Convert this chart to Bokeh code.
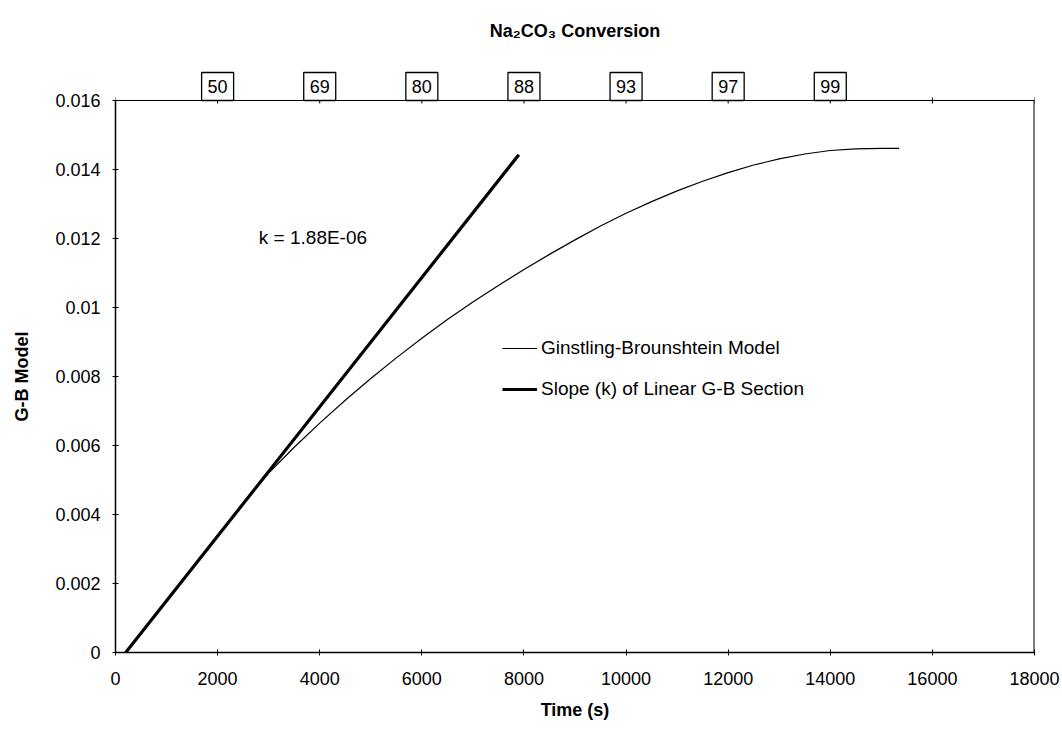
from bokeh.plotting import figure
from bokeh.models import Legend, LegendItem, FixedTicker, CustomJSTickFormatter, Range1d, Label
from bokeh.core.properties import value
from bokeh.embed import file_html
from bokeh.resources import INLINE

# ---- data ----
gb_time = [200, 1000, 2000, 2500, 3000, 3500, 4000, 4500, 5000, 5500, 6000, 6500,
           7000, 7500, 8000, 8500, 9000, 9500, 10000, 10500, 11000, 11500, 12000,
           12500, 13000, 13500, 14000, 14500, 15000, 15350]
gb_model = [0.0, 0.0015, 0.0034, 0.0043, 0.0052, 0.00595, 0.00665, 0.00731, 0.00794,
            0.00854, 0.00911, 0.00965, 0.01016, 0.01064, 0.0111, 0.01154, 0.01196,
            0.01236, 0.01273, 0.01307, 0.01338, 0.01366, 0.01391, 0.01413, 0.01431,
            0.01445, 0.01455, 0.0146, 0.01461, 0.01461]
slope_time = [200, 7900]
slope_value = [0.0, 0.01443]
conv_time = [2000, 4000, 6000, 8000, 10000, 12000, 14000]
conv_labels = ["50", "69", "80", "88", "93", "97", "99"]
x_ticks = [0, 2000, 4000, 6000, 8000, 10000, 12000, 14000, 16000, 18000]
y_ticks = [0, 0.002, 0.004, 0.006, 0.008, 0.01, 0.012, 0.014, 0.016]

FONT = "Liberation Sans"
W, H = 1062, 729
LEFT, RIGHT, BOTTOM = 115, 28, 77
Y_TOP = 0.016
PLOT_PX = 552                      # pixel height of the 0..0.016 area
FRAME_PX = H - BOTTOM              # frame extends to the top of the canvas
U = Y_TOP / PLOT_PX                # data units per pixel (vertical)

p = figure(width=W, height=H, output_backend="svg", toolbar_location=None,
           x_range=Range1d(0, 18000), y_range=Range1d(0, U * FRAME_PX))
p.min_border_left = LEFT
p.min_border_right = RIGHT
p.min_border_top = 0
p.min_border_bottom = BOTTOM
p.outline_line_color = None
p.xgrid.visible = False
p.ygrid.visible = False

for ax in (p.xaxis[0], p.yaxis[0]):
    ax.axis_line_color = "black"
    ax.axis_line_width = 1.5
    ax.major_tick_in = 3
    ax.major_tick_out = 3
    ax.minor_tick_line_color = None
    ax.major_label_text_font = FONT
    ax.major_label_text_font_size = "18px"
    ax.major_label_text_color = "black"
    ax.axis_label_text_font = FONT
    ax.axis_label_text_font_size = "18px"
    ax.axis_label_text_font_style = "bold"
    ax.axis_label_text_color = "black"

p.yaxis.bounds = (0, Y_TOP)
p.xaxis.ticker = FixedTicker(ticks=x_ticks)
p.yaxis.ticker = FixedTicker(ticks=y_ticks)
p.yaxis.formatter = CustomJSTickFormatter(code="return tick.toFixed(3).replace(/\\.?0+$/, '');")
p.xaxis.axis_label = "Time (s)"
# trailing no-break spaces re-centre the label on the 0..0.016 part of the axis
p.yaxis.axis_label = "G-B Model" + "\u00a0" * 20
p.xaxis.major_label_standoff = 16
p.yaxis.major_label_standoff = 12
p.xaxis.axis_label_standoff = 12
p.yaxis.axis_label_standoff = 20

# plot-area border (top and right)
p.line([0, 18000], [Y_TOP, Y_TOP], line_color="black", line_width=1.2)
p.line([18000, 18000], [0, Y_TOP], line_color="black", line_width=2)
# small tick marks on the top border
p.segment(x0=x_ticks, y0=[Y_TOP - 3 * U] * len(x_ticks), x1=x_ticks,
          y1=[Y_TOP + 3 * U] * len(x_ticks), line_color="black", line_width=1)

r_gb = p.line(gb_time, gb_model, line_color="black", line_width=1.2)
r_slope = p.line(slope_time, slope_value, line_color="black", line_width=3.2)

# conversion boxes above the plot area
box_y = [Y_TOP + 14 * U] * len(conv_time)
p.rect(x=conv_time, y=box_y, width=32, height=28, width_units="screen", height_units="screen",
       fill_color="white", line_color="black", line_width=1.3)
p.text(x=conv_time, y=box_y, text=conv_labels, text_font=value(FONT),
       text_font_size="18px", text_align="center", text_baseline="middle", text_color="black")
p.text(x=[9000], y=[Y_TOP + 70 * U], text=["Na\u2082CO\u2083 Conversion"], text_font=value(FONT),
       text_font_size="18px", text_font_style="bold", text_align="center",
       text_baseline="middle", text_color="black")

legend = Legend(items=[
    LegendItem(label="Ginstling-Brounshtein Model", renderers=[r_gb]),
    LegendItem(label="Slope (k) of Linear G-B Section", renderers=[r_slope]),
], location=(387, 252))
legend.border_line_color = None
legend.background_fill_alpha = 0
legend.padding = 0
legend.margin = 0
legend.label_height = 22
legend.glyph_height = 22
legend.spacing = 19
legend.glyph_width = 35
legend.label_standoff = 4
legend.label_text_font = FONT
legend.label_text_font_size = "19px"
legend.label_text_color = "black"
p.add_layout(legend, "center")

p.add_layout(Label(x=2807, y=0.01203, text="k = 1.88E-06", text_font=FONT,
                   text_font_size="19px", text_baseline="middle", text_align="left",
                   text_color="black"))

open("out.html", "w").write(file_html(p, INLINE))
